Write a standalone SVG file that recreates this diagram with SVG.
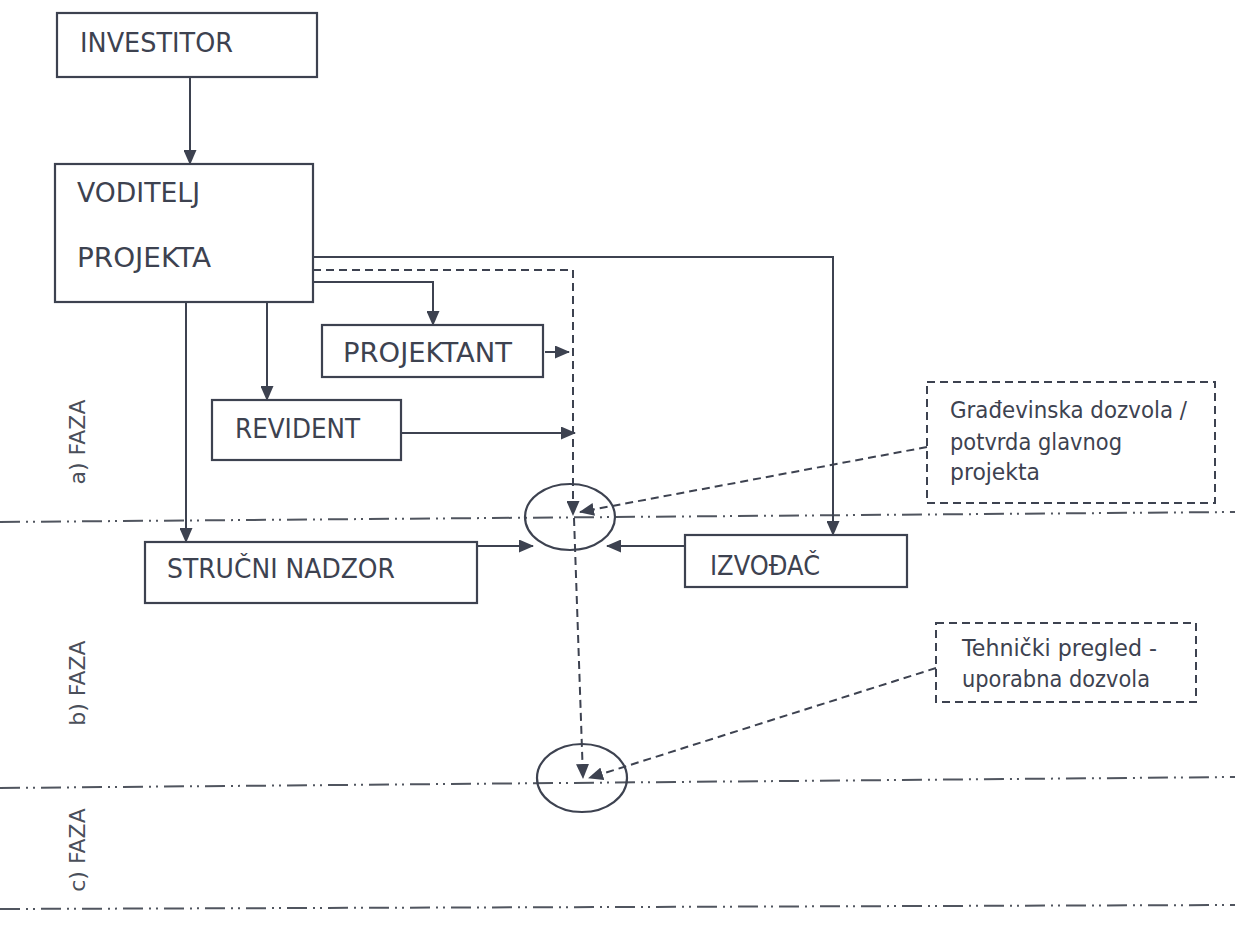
<svg xmlns="http://www.w3.org/2000/svg" width="1235" height="925" viewBox="0 0 1235 925">
  <style>
    .box { fill: none; stroke: #3d4250; stroke-width: 2.2; }
    .note { fill: none; stroke: #3d4250; stroke-width: 2; stroke-dasharray: 8 5; }
    .lbl { font-family: "DejaVu Sans", Verdana, sans-serif; font-size: 27px; fill: #3d4250; }
    .nt { font-family: "DejaVu Sans", Verdana, sans-serif; font-size: 23px; fill: #3d4250; }
    .faza { font-family: "DejaVu Sans", Verdana, sans-serif; font-size: 22px; fill: #4a4f5a; }
    .c { fill: none; stroke: #3d4250; stroke-width: 2; }
    .d { fill: none; stroke: #3d4250; stroke-width: 2; stroke-dasharray: 8 5; }
    .ph { fill: none; stroke: #50555f; stroke-width: 2; stroke-dasharray: 20 6 2 5 2 6; }
    .ell { fill: none; stroke: #3d4250; stroke-width: 2.2; }
  </style>
  <defs>
    <marker id="ah" markerUnits="userSpaceOnUse" markerWidth="15" markerHeight="13" refX="14" refY="6.5" orient="auto">
      <path d="M0,0 L15,6.5 L0,13 z" fill="#3d4250"/>
    </marker>
  </defs>
  <rect width="1235" height="925" fill="#ffffff"/>

  <g id="phase-lines">
    <line class="ph" x1="0" y1="522" x2="1235" y2="512"/>
    <line class="ph" x1="0" y1="788" x2="1235" y2="777"/>
    <line class="ph" x1="0" y1="909" x2="1235" y2="905"/>
  </g>
  <g id="phase-labels">
    <text class="faza" transform="translate(85,442) rotate(-90)" text-anchor="middle">a) FAZA</text>
    <text class="faza" transform="translate(85,683) rotate(-90)" text-anchor="middle">b) FAZA</text>
    <text class="faza" transform="translate(85,850) rotate(-90)" text-anchor="middle">c) FAZA</text>
  </g>

  <g id="investitor">
    <rect class="box" x="57" y="13" width="260" height="64"/>
    <text class="lbl" x="80" y="52" textLength="153" lengthAdjust="spacingAndGlyphs">INVESTITOR</text>
  </g>
  <g id="voditelj">
    <rect class="box" x="55" y="164" width="258" height="138"/>
    <text class="lbl" x="77" y="202" textLength="123" lengthAdjust="spacingAndGlyphs">VODITELJ</text>
    <text class="lbl" x="77" y="267" textLength="134" lengthAdjust="spacingAndGlyphs">PROJEKTA</text>
  </g>
  <g id="projektant">
    <rect class="box" x="322" y="325" width="221" height="52"/>
    <text class="lbl" x="343" y="362" textLength="169" lengthAdjust="spacingAndGlyphs">PROJEKTANT</text>
  </g>
  <g id="revident">
    <rect class="box" x="212" y="400" width="189" height="60"/>
    <text class="lbl" x="235" y="438" textLength="125" lengthAdjust="spacingAndGlyphs">REVIDENT</text>
  </g>
  <g id="strucni-nadzor">
    <rect class="box" x="145" y="542" width="332" height="61"/>
    <text class="lbl" x="167" y="578" textLength="228" lengthAdjust="spacingAndGlyphs">STRUČNI NADZOR</text>
  </g>
  <g id="izvodac">
    <rect class="box" x="685" y="535" width="222" height="52"/>
    <text class="lbl" x="710" y="575" textLength="110" lengthAdjust="spacingAndGlyphs">IZVOĐAČ</text>
  </g>
  <g id="milestone-1">
    <ellipse class="ell" cx="570" cy="517" rx="45" ry="33"/>
  </g>
  <g id="milestone-2">
    <ellipse class="ell" cx="582" cy="778" rx="45" ry="34"/>
  </g>
  <g id="note-gradjevinska">
    <rect class="note" x="927" y="382" width="288" height="121"/>
    <text class="nt" x="950" y="418" textLength="237" lengthAdjust="spacingAndGlyphs">Građevinska dozvola /</text>
    <text class="nt" x="950" y="450" textLength="172" lengthAdjust="spacingAndGlyphs">potvrda glavnog</text>
    <text class="nt" x="950" y="480" textLength="90" lengthAdjust="spacingAndGlyphs">projekta</text>
  </g>
  <g id="note-tehnicki">
    <rect class="note" x="936" y="623" width="260" height="79"/>
    <text class="nt" x="962" y="656" textLength="195" lengthAdjust="spacingAndGlyphs">Tehnički pregled -</text>
    <text class="nt" x="962" y="687" textLength="188" lengthAdjust="spacingAndGlyphs">uporabna dozvola</text>
  </g>

  <g id="connectors">
    <line class="c" x1="190" y1="77" x2="190" y2="164" marker-end="url(#ah)"/>
    <path class="c" d="M313,257 H833 V535" marker-end="url(#ah)"/>
    <path class="c" d="M313,282 H433 V325" marker-end="url(#ah)"/>
    <line class="c" x1="267" y1="302" x2="267" y2="400" marker-end="url(#ah)"/>
    <line class="c" x1="186" y1="302" x2="186" y2="542" marker-end="url(#ah)"/>
    <line class="c" x1="545" y1="352" x2="569" y2="352" marker-end="url(#ah)"/>
    <line class="c" x1="401" y1="433" x2="575" y2="433" marker-end="url(#ah)"/>
    <line class="c" x1="477" y1="546" x2="533" y2="546" marker-end="url(#ah)"/>
    <line class="c" x1="685" y1="546" x2="607" y2="546" marker-end="url(#ah)"/>
    <path class="d" d="M313,270 H573 V515" marker-end="url(#ah)"/>
    <line class="d" x1="574" y1="518" x2="583" y2="778" marker-end="url(#ah)"/>
    <line class="d" x1="927" y1="447" x2="580" y2="512" marker-end="url(#ah)"/>
    <line class="d" x1="936" y1="668" x2="589" y2="778" marker-end="url(#ah)"/>
  </g>
</svg>
